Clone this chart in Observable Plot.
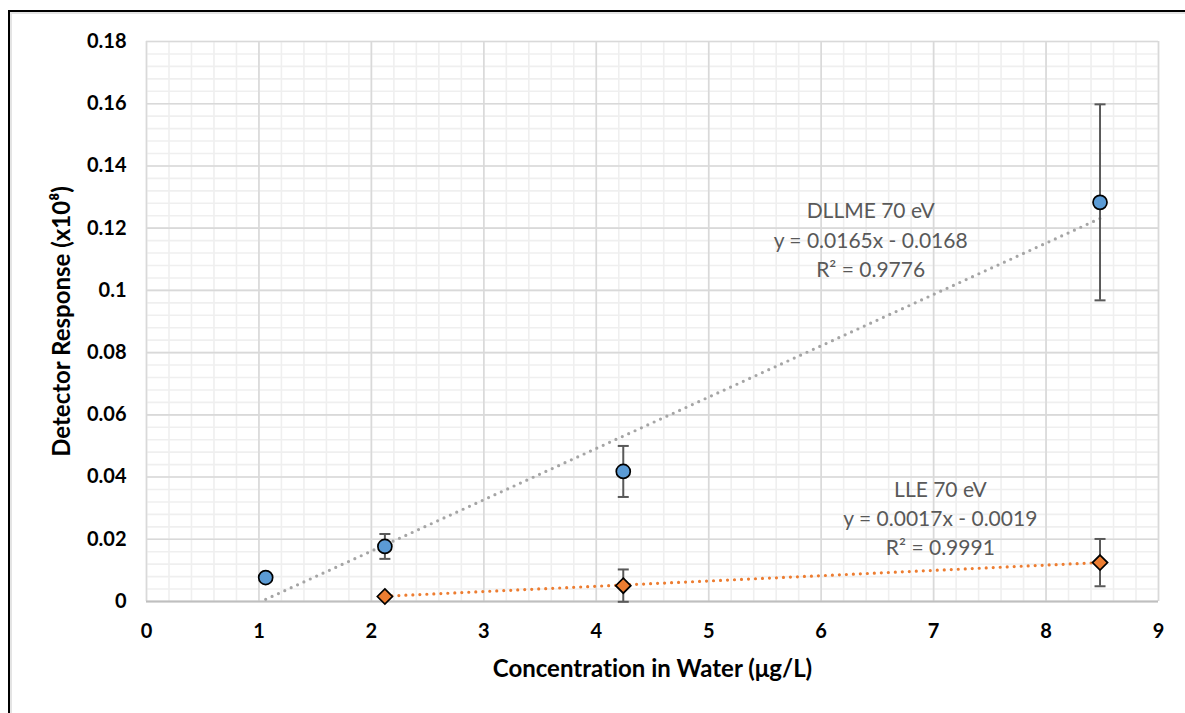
<!DOCTYPE html>
<html>
<head>
<meta charset="utf-8">
<script src="https://cdn.jsdelivr.net/npm/d3@7"></script>
<script src="https://cdn.jsdelivr.net/npm/@observablehq/plot@0.6"></script>
<style>
  html, body { margin: 0; padding: 0; background: #fff; }
  #wrap { position: relative; width: 1185px; height: 713px; overflow: hidden; }
  #frame {
    position: absolute; left: 8px; top: 10px; right: -4px; bottom: -4px;
    border-left: 2.5px solid #000; border-top: 2.5px solid #000;
    box-shadow: inset 2px 2px 0 #e4e4e4;
    pointer-events: none;
  }
  svg { display: block; font-variant-ligatures: none; }
</style>
</head>
<body>
<div id="wrap"><div id="frame"></div></div>
<script>
// Calibration data: concentration in water (µg/L) vs detector response (x10^8)
const dllmeConcentration = [1.06, 2.12, 4.24, 8.48];
const dllmeResponse = [0.0077, 0.0177, 0.0418, 0.1283];
const dllmeError = [0.0008, 0.0040, 0.0082, 0.0315];

const lleConcentration = [2.12, 4.24, 8.48];
const lleResponse = [0.0016, 0.0051, 0.0125];
const lleError = [0.0006, 0.0052, 0.0076];

// Linear trendlines (slope, intercept) and their labels
const seriesNames = ["DLLME 70 eV", "LLE 70 eV"];
const trendSlope = [0.0165, 0.0017];
const trendIntercept = [-0.0168, -0.0019];
const trendR2 = ["0.9776", "0.9991"];
const labelX = [6.44, 7.06];
const labelY = [0.1167, 0.0273];

// Axis ticks and titles
const xTicks = [0, 1, 2, 3, 4, 5, 6, 7, 8, 9];
const yTicks = [0, 0.02, 0.04, 0.06, 0.08, 0.1, 0.12, 0.14, 0.16, 0.18];
const yTickLabels = ["0", "0.02", "0.04", "0.06", "0.08", "0.1", "0.12", "0.14", "0.16", "0.18"];
const xMinorTicks = d3.range(0, 46).map(i => i / 5);
const yMinorTicks = d3.range(0, 46).map(i => i * 0.004);
const xTitle = "Concentration in Water (μg/L)";
const yTitle = "Detector Response (x10⁸)";

const blue = "#5b9bd5";
const orange = "#ed7d31";
const errColor = "#595959";

const dllme = dllmeConcentration.map((x, i) => ({x, y: dllmeResponse[i], e: dllmeError[i]}));
const lle = lleConcentration.map((x, i) => ({x, y: lleResponse[i], e: lleError[i]}));

function trend(xs, k) {
  const x0 = d3.min(xs), x1 = d3.max(xs);
  return [x0, x1].map(x => ({x, y: trendSlope[k] * x + trendIntercept[k]}));
}
const fmt = v => (v < 0 ? " - " : " + ") + Math.abs(v).toFixed(4);
const labels = seriesNames.map((name, k) => ({
  x: labelX[k], y: labelY[k],
  text: `${name}\ny = ${trendSlope[k].toFixed(4)}x${fmt(trendIntercept[k])}\nR² = ${trendR2[k]}`
}));

// Horizontal cap for error bars, half-width = dot radius
const capSymbol = {
  draw(ctx, size) {
    const w = Math.sqrt(size / Math.PI);
    ctx.moveTo(-w, 0);
    ctx.lineTo(w, 0);
  }
};

function errorMarks(data) {
  return [
    Plot.ruleX(data, {x: "x", y1: d => d.y - d.e, y2: d => d.y + d.e, stroke: errColor, strokeWidth: 2}),
    Plot.dot(data, {x: "x", y: d => d.y + d.e, symbol: capSymbol, r: 5.5, stroke: errColor, strokeWidth: 2, fill: "none"}),
    Plot.dot(data, {x: "x", y: d => d.y - d.e, symbol: capSymbol, r: 5.5, stroke: errColor, strokeWidth: 2, fill: "none"})
  ];
}

const chart = Plot.plot({
  width: 1185,
  height: 713,
  marginLeft: 146,
  marginRight: 27,
  marginTop: 41,
  marginBottom: 112,
  style: {fontFamily: "Lato, 'Open Sans', sans-serif", background: "transparent", overflow: "visible"},
  x: {domain: [0, 9]},
  y: {domain: [0, 0.18]},
  marks: [
    Plot.gridX(xMinorTicks, {stroke: "#efefef", strokeOpacity: 1, strokeWidth: 1.6}),
    Plot.gridY(yMinorTicks, {stroke: "#efefef", strokeOpacity: 1, strokeWidth: 1.6}),
    Plot.gridX(xTicks, {stroke: "#d9d9d9", strokeOpacity: 1, strokeWidth: 1.6}),
    Plot.gridY(yTicks, {stroke: "#d9d9d9", strokeOpacity: 1, strokeWidth: 1.6}),
    Plot.ruleY([0], {stroke: "#bfbfbf", strokeWidth: 2}),
    Plot.axisX(xTicks, {
      tickSize: 0, tickPadding: 22, fontSize: 20, fontWeight: "bold", fill: "#000", label: null
    }),
    Plot.axisY(yTicks, {
      tickSize: 0, tickPadding: 20, fontSize: 20, fontWeight: "bold", fill: "#000",
      tickFormat: (d, i) => yTickLabels[i], label: null
    }),
    Plot.text([xTitle], {frameAnchor: "bottom", dy: 68, lineAnchor: "middle", textAnchor: "middle", fontSize: 24, fontWeight: "bold", fill: "#000"}),
    Plot.text([yTitle], {frameAnchor: "left", dx: -84, rotate: -90, lineAnchor: "middle", textAnchor: "middle", fontSize: 24, fontWeight: "bold", fill: "#000"}),
    Plot.line(trend(dllmeConcentration, 0), {x: "x", y: "y", stroke: "#a5a5a5", strokeWidth: 3.2, strokeDasharray: "0,7", strokeLinecap: "round"}),
    Plot.line(trend(lleConcentration, 1), {x: "x", y: "y", stroke: orange, strokeWidth: 3.2, strokeDasharray: "0,7", strokeLinecap: "round"}),
    ...errorMarks(dllme),
    ...errorMarks(lle),
    Plot.dot(dllme, {x: "x", y: "y", r: 7, fill: blue, stroke: "#000", strokeWidth: 1.7}),
    Plot.dot(lle, {x: "x", y: "y", symbol: "diamond2", r: 6.8, fill: orange, stroke: "#000", strokeWidth: 1.7}),
    Plot.text(labels, {x: "x", y: "y", text: "text", fontSize: 21, lineHeight: 1.4, fill: "#595959", textAnchor: "middle"})
  ]
});

document.getElementById("wrap").prepend(chart);
</script>
</body>
</html>
